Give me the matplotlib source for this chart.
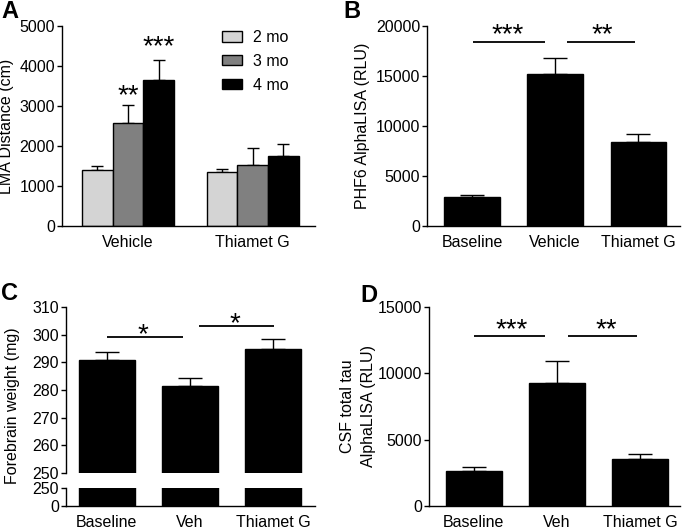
import numpy as np
import matplotlib
matplotlib.use('Agg')
import matplotlib.pyplot as plt
from matplotlib.patches import Patch

plt.rcParams['font.family'] = ['Liberation Sans', 'DejaVu Sans']
FS = 11.5

# ── data ─────────────────────────────────────────
# A: locomotor activity by age
a_groups = ["Vehicle", "Thiamet G"]
a_ages = ["2 mo", "3 mo", "4 mo"]
a_mean = [[1400, 1360], [2570, 1515], [3650, 1750]]
a_err = [[95, 60], [450, 425], [510, 290]]
a_colors = ["#d4d4d4", "#808080", "#000000"]

# B: PHF6 AlphaLISA
b_groups = ["Baseline", "Vehicle", "Thiamet G"]
b_mean = [2900, 15200, 8450]
b_err = [170, 1600, 800]

# C: forebrain weight
c_groups = ["Baseline", "Veh", "Thiamet G"]
c_mean = [290.7, 281.4, 294.8]
c_err = [3.1, 2.9, 3.8]

# D: CSF total tau
d_groups = ["Baseline", "Veh", "Thiamet G"]
d_mean = [2620, 9290, 3550]
d_err = [300, 1610, 400]

W, H = 683, 529
fig = plt.figure(figsize=(W / 100, H / 100), dpi=100)


def px_axes(left, right, top, bottom):
    return fig.add_axes([left / W, 1 - bottom / H, (right - left) / W, (bottom - top) / H])


def style(ax, bottom=True):
    for s in ['top', 'right']:
        ax.spines[s].set_visible(False)
    ax.spines['left'].set_linewidth(1.0)
    ax.spines['bottom'].set_linewidth(1.0)
    if not bottom:
        ax.spines['bottom'].set_visible(False)
    ax.tick_params(axis='y', direction='out', length=3.5, width=1.0, pad=1.5, labelsize=FS)
    ax.tick_params(axis='x', length=0, pad=6.5, labelsize=FS)


def stars(ax, x, y, s):
    # glyph centre at data y
    ax.annotate(s, (x, y), xytext=(0, -10.5), textcoords='offset points',
                ha='center', va='baseline', fontsize=20)


def sig(ax, x0, x1, y):
    ax.plot([x0, x1], [y, y], color='k', lw=1.3, solid_capstyle='butt', clip_on=False)


def fig_label(x, y, s, rot=90):
    fig.text(x / W, 1 - y / H, s, rotation=rot, ha='center', va='center', fontsize=FS)


# ── A ────────────────────────────────────────────
ax = px_axes(62, 315, 26, 226)
style(ax)
xa = np.arange(len(a_groups))
offs = [-0.247, 0, 0.247]
for i in range(3):
    ax.bar(xa + offs[i], a_mean[i], width=0.247, color=a_colors[i], edgecolor='k', lw=1.0, zorder=2)
    ax.errorbar(xa + offs[i], a_mean[i], yerr=[[0, 0], a_err[i]], fmt='none', ecolor='k',
                elinewidth=1.0, capsize=4.5, capthick=1.0, zorder=1)
ax.set_xlim(-0.53, 1.5)
ax.set_ylim(0, 5000)
ax.set_yticks(range(0, 5001, 1000))
ax.set_xticks(xa)
ax.set_xticklabels(a_groups)
stars(ax, offs[1], 3425, "**")
stars(ax, offs[2], 4650, "***")
handles = [Patch(facecolor=c, edgecolor='k', lw=1.0) for c in a_colors]
ax.legend(handles, a_ages, loc='upper left', bbox_to_anchor=(222 / W, 1 - 30 / H),
          bbox_transform=fig.transFigure, frameon=False, fontsize=FS,
          handlelength=1.25, handleheight=0.62, handletextpad=0.7, labelspacing=0.55,
          borderpad=0, borderaxespad=0)
fig_label(7, 126, "LMA Distance (cm)")

# ── B ────────────────────────────────────────────
ax = px_axes(427, 680, 26, 226)
style(ax)
xb = np.arange(len(b_groups))
ax.bar(xb, b_mean, width=0.67, color='k', edgecolor='k', zorder=2)
ax.errorbar(xb, b_mean, yerr=[[0] * 3, b_err], fmt='none', ecolor='k',
            elinewidth=1.0, capsize=8.5, capthick=1.0, zorder=1)
ax.set_xlim(-0.54, 2.5)
ax.set_ylim(0, 20000)
ax.set_yticks(range(0, 20001, 5000))
ax.set_xticks(xb)
ax.set_xticklabels(b_groups)
sig(ax, 0.01, 0.88, 18430)
sig(ax, 1.14, 1.96, 18430)
stars(ax, 0.43, 19800, "***")
stars(ax, 1.56, 19800, "**")
fig_label(363, 126, "PHF6 AlphaLISA (RLU)")

# ── C (broken axis) ──────────────────────────────
xc = np.arange(len(c_groups))
axu = px_axes(66, 315, 307, 473)
style(axu, bottom=False)
axu.bar(xc, c_mean, width=0.67, color='k', edgecolor='k', zorder=2)
axu.errorbar(xc, c_mean, yerr=[[0] * 3, c_err], fmt='none', ecolor='k',
             elinewidth=1.0, capsize=8.5, capthick=1.0, zorder=1)
axu.set_xlim(-0.49, 2.5)
axu.set_ylim(250, 310)
axu.set_yticks(range(250, 311, 10))
axu.set_xticks([])
sig(axu, 0.0, 0.92, 299.2)
sig(axu, 1.11, 2.01, 303.0)
stars(axu, 0.43, 302.4, "*")
stars(axu, 1.54, 306.4, "*")

axl = px_axes(66, 315, 488, 506)
style(axl)
axl.bar(xc, c_mean, width=0.67, color='k', edgecolor='k', zorder=2)
axl.set_xlim(-0.49, 2.5)
axl.set_ylim(0, 250)
axl.set_yticks([0, 250])
axl.set_xticks(xc)
axl.set_xticklabels(c_groups)
fig_label(13, 406, "Forebrain weight (mg)")

# ── D ────────────────────────────────────────────
ax = px_axes(429, 680, 307, 506)
style(ax)
xd = np.arange(len(d_groups))
ax.bar(xd, d_mean, width=0.67, color='k', edgecolor='k', zorder=2)
ax.errorbar(xd, d_mean, yerr=[[0] * 3, d_err], fmt='none', ecolor='k',
            elinewidth=1.0, capsize=8.5, capthick=1.0, zorder=1)
ax.set_xlim(-0.54, 2.48)
ax.set_ylim(0, 15000)
ax.set_yticks(range(0, 15001, 5000))
ax.set_xticks(xd)
ax.set_xticklabels(d_groups)
sig(ax, 0.0, 0.86, 12811)
sig(ax, 1.13, 1.96, 12811)
stars(ax, 0.45, 13794, "***")
stars(ax, 1.59, 13794, "**")
fig_label(348, 406, "CSF total tau")
fig_label(368, 406, "AlphaLISA (RLU)")

# ── panel letters ────────────────────────────────
for (x, y, s) in [(10, 11, "A"), (352, 11, "B"), (10, 294, "C"), (369, 295, "D")]:
    fig.text(x / W, 1 - y / H, s, ha='center', va='center', fontsize=17, fontweight='bold')

fig.savefig("out.png", dpi=100)
